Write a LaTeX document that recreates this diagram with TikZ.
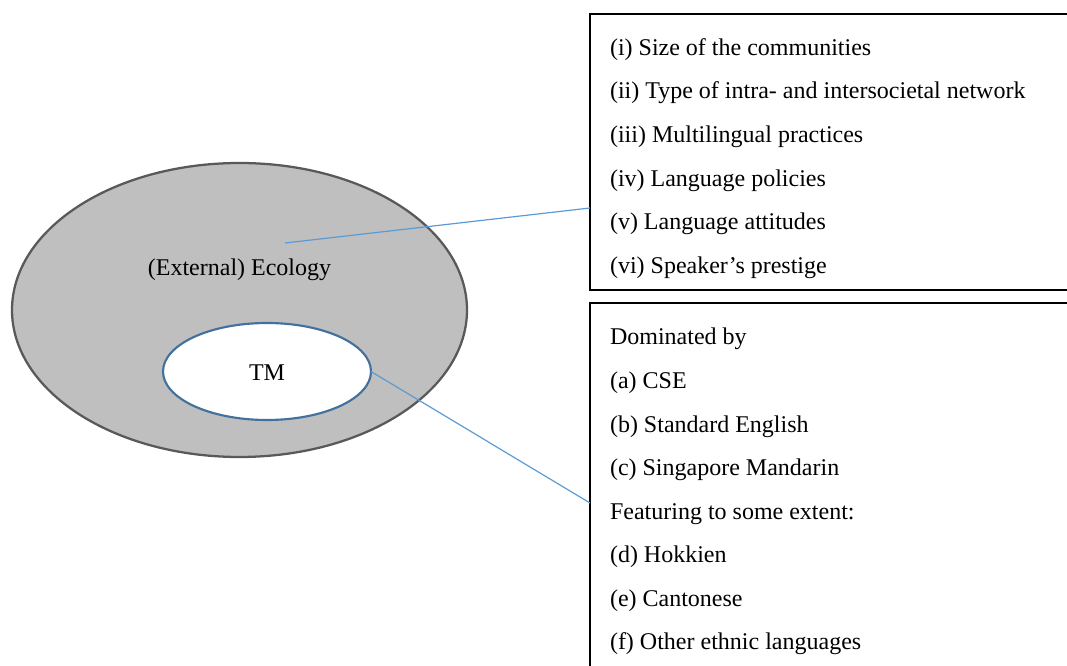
\documentclass[tikz,border=0pt]{standalone}
\usepackage{fontspec}
\setmainfont{Liberation Serif}
\usetikzlibrary{shapes.geometric}
\definecolor{ringgray}{HTML}{595959}
\definecolor{fillgray}{HTML}{BFBFBF}
\definecolor{tmblue}{HTML}{41719C}
\definecolor{linkblue}{HTML}{5B9BD5}
\begin{document}
\begin{tikzpicture}[x=0.75pt,y=-0.75pt,
  every node/.style={inner sep=0pt,outer sep=0pt},
  txt/.style={anchor=base west,font=\fontsize{18}{20}\selectfont},
  listbox/.style={draw=black,line width=1.5pt,fill=white,anchor=north west},
  link/.style={draw=linkblue,line width=0.9pt}]
\useasboundingbox (0,0) rectangle (1067,666);
\clip (0,0) rectangle (1067,666);

% ecology ring with the TM ellipse inside
\node[ellipse,draw=ringgray,line width=1.7pt,fill=fillgray,
      minimum width=341.25pt,minimum height=220.5pt] (eco) at (239.5,310) {};
\node[txt,anchor=base] (ecolabel) at (239.5,276) {(External) Ecology};
\node[ellipse,draw=tmblue,line width=1.6pt,fill=white,
      minimum width=156pt,minimum height=72.75pt] (tm) at (267,371.5) {};
\node[txt,anchor=base] (tmlabel) at (267,381) {TM};

% factor lists
\node[listbox,minimum width=375pt,minimum height=207pt] (box1) at (590,14) {};
\node[listbox,minimum width=375pt,minimum height=300pt] (box2) at (590,303) {};

\node[txt] (f1) at (610,55.3) {(i) Size of the communities};
\node[txt] (f2) at (610,98.9) {(ii) Type of intra- and intersocietal network};
\node[txt] (f3) at (610,142.5) {(iii) Multilingual practices};
\node[txt] (f4) at (610,186.1) {(iv) Language policies};
\node[txt] (f5) at (610,229.7) {(v) Language attitudes};
\node[txt] (f6) at (610,273.3) {(vi) Speaker’s prestige};

\node[txt] (d0) at (610,345) {Dominated by};
\node[txt] (d1) at (610,388.5) {(a) CSE};
\node[txt] (d2) at (610,432) {(b) Standard English};
\node[txt] (d3) at (610,475.5) {(c) Singapore Mandarin};
\node[txt] (d4) at (610,519) {Featuring to some extent:};
\node[txt] (d5) at (610,562.5) {(d) Hokkien};
\node[txt] (d6) at (610,606) {(e) Cantonese};
\node[txt] (d7) at (610,649.5) {(f) Other ethnic languages};

% connectors from the ring and the TM ellipse to their lists
\coordinate (ecopt) at (285,243);
\coordinate (box1in) at (590,208);
\coordinate (box2in) at (590,503);
\draw[link] (ecopt) -- (box1in);
\draw[link] (tm.east) -- (box2in);
\end{tikzpicture}
\end{document}
